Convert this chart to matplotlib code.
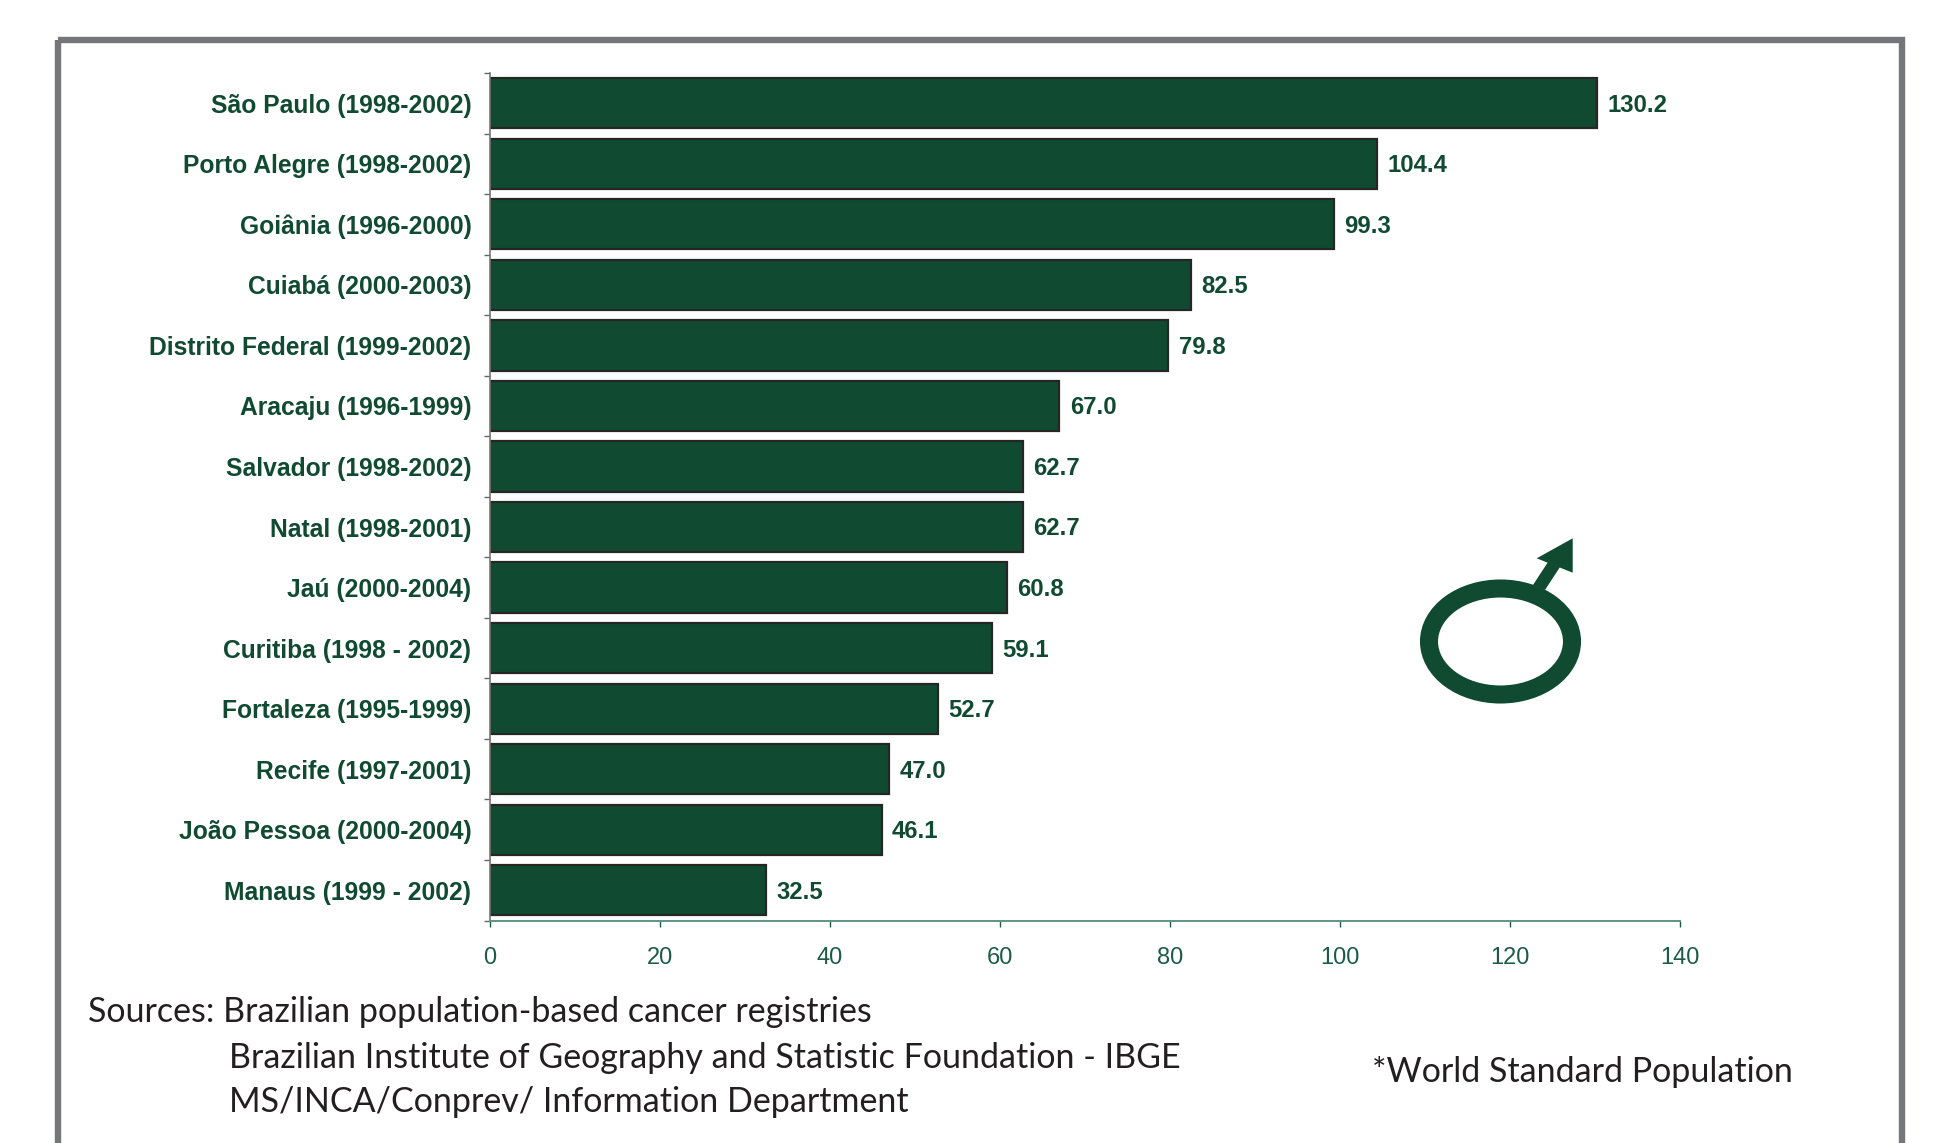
import matplotlib
matplotlib.use('Agg')
import matplotlib.pyplot as plt
from matplotlib.patches import Ellipse, Polygon, Rectangle
import numpy as np

W, H = 1936, 1143

registries = ['São Paulo (1998-2002)', 'Porto Alegre (1998-2002)', 'Goiânia (1996-2000)',
              'Cuiabá (2000-2003)', 'Distrito Federal (1999-2002)', 'Aracaju (1996-1999)',
              'Salvador (1998-2002)', 'Natal (1998-2001)', 'Jaú (2000-2004)',
              'Curitiba (1998 - 2002)', 'Fortaleza (1995-1999)', 'Recife (1997-2001)',
              'João Pessoa (2000-2004)', 'Manaus (1999 - 2002)']
rates = [130.2, 104.4, 99.3, 82.5, 79.8, 67.0, 62.7, 62.7, 60.8, 59.1, 52.7, 47.0, 46.1, 32.5]
x_ticks = [0, 20, 40, 60, 80, 100, 120, 140]

GREEN = '#0f4a31'
TICK_GREEN = '#1c5c46'
AXIS_GREEN = '#5f9484'
FRAME = '#75767a'
INK = '#231f20'

fig = plt.figure(figsize=(W / 100, H / 100), dpi=100, facecolor='white')

# Full-figure layer in pixel units for the frame, symbol and footer
page = fig.add_axes([0, 0, 1, 1])
page.set_xlim(0, W)
page.set_ylim(H, 0)
page.axis('off')

page.add_patch(Rectangle((58, 39.5), 1844, 1200, fill=False, edgecolor=FRAME, linewidth=4.6))

# Male symbol
page.add_patch(Ellipse((1500.5, 641.5), 143, 106, fill=False, edgecolor=GREEN, linewidth=13))
page.add_patch(Polygon([(1533, 585), (1548, 562), (1560, 567), (1545, 590)], color=GREEN, lw=0))
page.add_patch(Polygon([(1572.7, 538.3), (1572.7, 572.7), (1536.7, 558.3)], color=GREEN, lw=0))

footer_font = dict(family='Lato', fontsize=24.5, color=INK, va='baseline', ha='left')
page.text(88, 1022.5, 'Sources: Brazilian population-based cancer registries', **footer_font)
page.text(229, 1067.5, 'Brazilian Institute of Geography and Statistic Foundation - IBGE', **footer_font)
page.text(229, 1112, 'MS/INCA/Conprev/ Information Department', **footer_font)
page.text(1372, 1082.5, '*World Standard Population', **footer_font)

# Bar chart
ax = fig.add_axes([489.5 / W, 1 - 920.5 / H, (1680 - 489.5) / W, (920.5 - 73) / H])
ax.patch.set_alpha(0)
y = np.arange(len(registries))
ax.barh(y, rates, height=0.83, color=GREEN, edgecolor='#262626', linewidth=1.6)

for pos, val in zip(y, rates):
    ax.annotate(f'{val:.1f}', (val, pos), xytext=(7.5, -1.4), textcoords='offset points',
                va='center', ha='left', family='Liberation Sans', fontweight='bold',
                fontsize=17.2, color=GREEN)

ax.set_xlim(0, 140)
ax.set_ylim(len(registries) - 0.5, -0.5)

ax.set_xticks(x_ticks)
ax.tick_params(axis='x', length=4.6, width=1, color=TICK_GREEN, labelcolor=TICK_GREEN,
               labelsize=17, pad=14.2)
ax.set_yticks(y)
ax.set_yticklabels(registries, family='Liberation Sans', fontweight='bold', fontsize=17.7, color=GREEN)
ax.tick_params(axis='y', which='major', length=0, pad=13)
ax.set_yticks(np.arange(len(registries) + 1) - 0.5, minor=True)
ax.tick_params(axis='y', which='minor', length=4.5, width=1, color='#666666')
for lab in ax.get_xticklabels():
    lab.set_family('Liberation Sans')

ax.spines['top'].set_visible(False)
ax.spines['right'].set_visible(False)
ax.spines['left'].set_color('#777777')
ax.spines['left'].set_linewidth(1.2)
ax.spines['bottom'].set_color(AXIS_GREEN)
ax.spines['bottom'].set_linewidth(1.4)

plt.savefig('out.png', dpi=100)
plt.close()
